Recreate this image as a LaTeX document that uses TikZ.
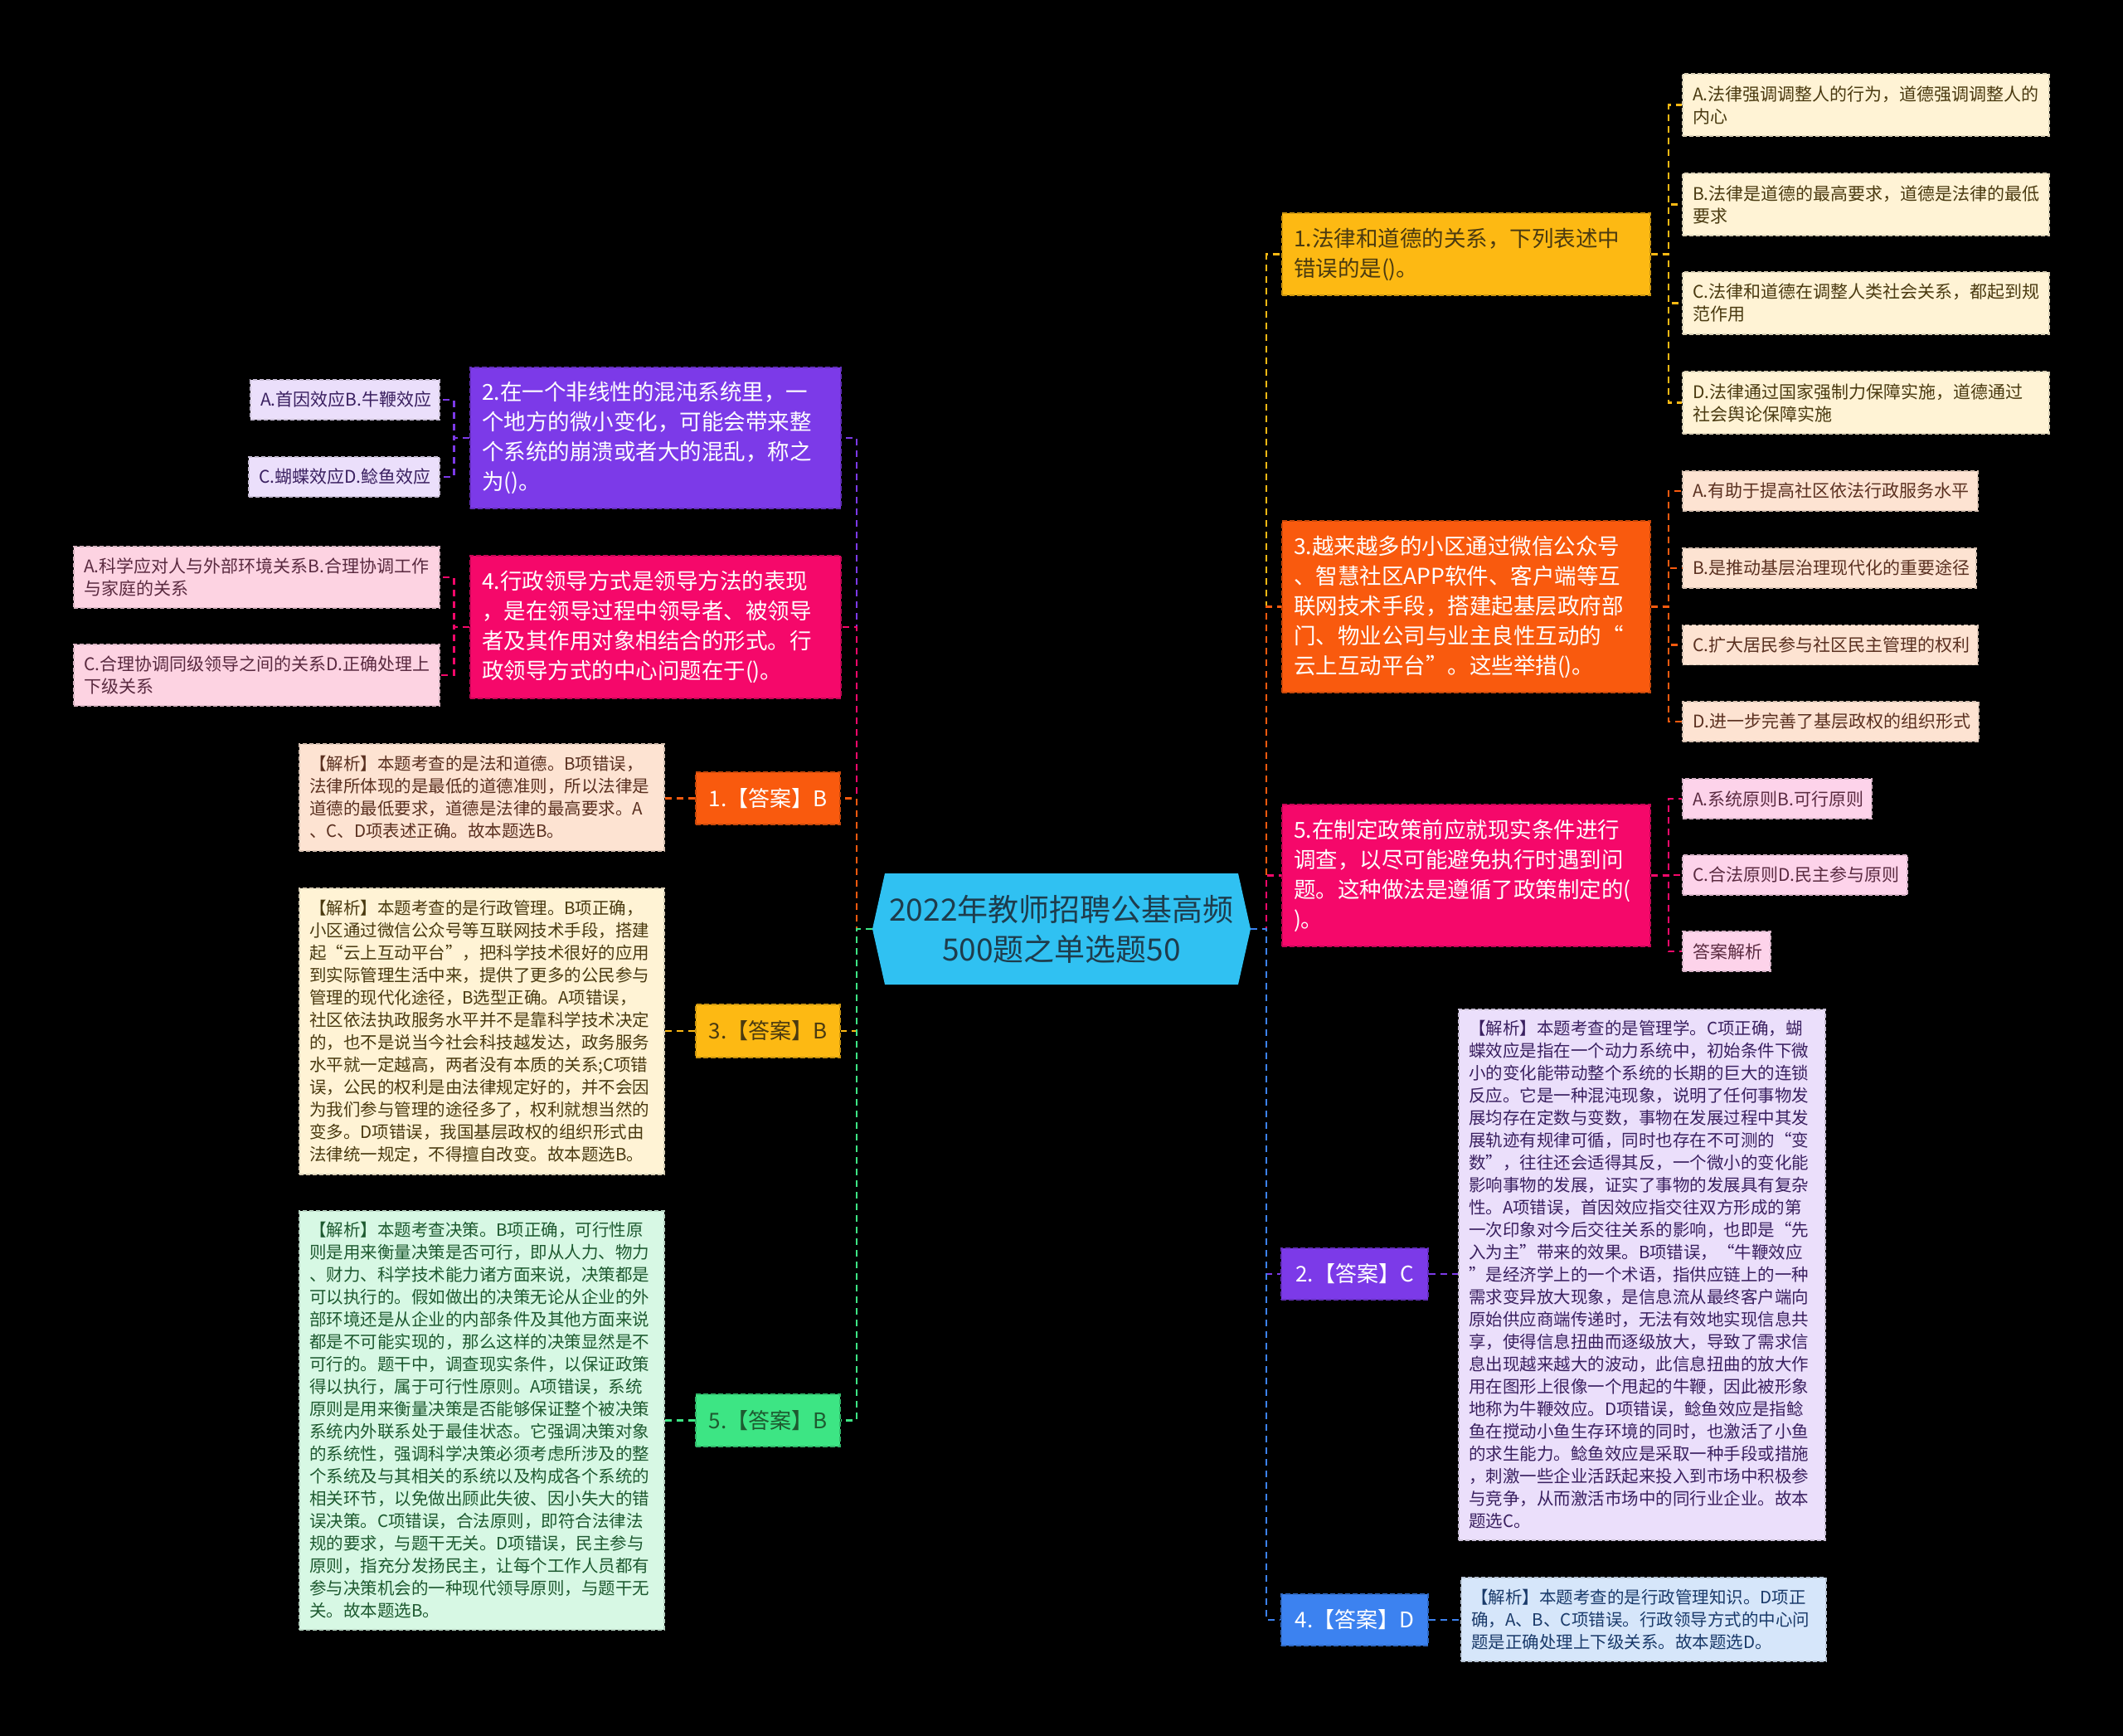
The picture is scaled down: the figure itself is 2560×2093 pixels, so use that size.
\documentclass[tikz,border=0pt]{standalone}
\usepackage{fontspec}
\setmainfont{Noto Sans CJK SC}
\usetikzlibrary{calc}
\definecolor{cYel}{HTML}{FDB913}
\definecolor{cOra}{HTML}{F95A0E}
\definecolor{cPnk}{HTML}{F5086A}
\definecolor{cPur}{HTML}{7C3AE8}
\definecolor{cGrn}{HTML}{3DE584}
\definecolor{cBlu}{HTML}{3C82F0}
\definecolor{cCen}{HTML}{30C1F2}
\definecolor{lYel}{HTML}{FFF3D5}
\definecolor{lOra}{HTML}{FDE3D2}
\definecolor{lPnk}{HTML}{FDD3EA}
\definecolor{lPur}{HTML}{EBDFFB}
\definecolor{lMag}{HTML}{FDD3E2}
\definecolor{lGrn}{HTML}{D7F8E4}
\definecolor{lBlu}{HTML}{D6E6FA}
\definecolor{tYel}{HTML}{4A3A10}
\definecolor{tOra}{HTML}{5A3020}
\definecolor{tPnk}{HTML}{5A2A40}
\definecolor{tPur}{HTML}{3A2060}
\definecolor{tGrn}{HTML}{1E5A30}
\definecolor{tBlu}{HTML}{1A3A6A}
\definecolor{tCen}{HTML}{1E3C4C}
\begin{document}
\begin{tikzpicture}[x=1pt,y=-1pt]
\tikzset{
 conn/.style={line width=2.3pt, dash pattern=on 8pt off 6pt},
 mainbox/.style={rectangle, draw, line width=1.3pt, dash pattern=on 6pt off 3pt, inner xsep=14pt, inner ysep=0pt, align=left, font=\fontsize{26.5pt}{36pt}\selectfont},
 ansbox/.style={rectangle, draw, line width=1.3pt, dash pattern=on 6pt off 3pt, inner sep=0pt, align=center, font=\fontsize{26pt}{32pt}\selectfont},
 optbox/.style={rectangle, draw, line width=1.2pt, dash pattern=on 5pt off 3pt, inner xsep=12pt, inner ysep=0pt, align=left, font=\fontsize{21pt}{27pt}\selectfont},
 anabox/.style={optbox, font=\fontsize{20.5pt}{27pt}\selectfont},
 rootbox/.style={rectangle, inner sep=0pt, align=center, text=tCen, font=\fontsize{37pt}{48pt}\selectfont},
}
\fill[black] (0,0) rectangle (2560,2093);
\useasboundingbox (0,0) rectangle (2560,2093);

% root hexagon
\fill[cCen] (1067,1053) -- (1493,1053) -- (1508,1120) -- (1493,1187) -- (1067,1187) -- (1052,1120) -- cycle;
\node[rootbox, minimum width=456pt, minimum height=134pt] (root) at (1280,1120) {2022年教师招聘公基高频\\500题之单选题50};

% right main boxes
\node[mainbox, fill=cYel, draw=cYel!80!black, text=tYel, text width=416pt, minimum height=99pt] (qY) at (1768,306.5) {1.法律和道德的关系，下列表述中\\错误的是()。};
\node[mainbox, fill=cOra, draw=cOra!80!black, text=white, text width=416pt, minimum height=207pt] (qO) at (1768,731.5) {3.越来越多的小区通过微信公众号\\、智慧社区APP软件、客户端等互\\联网技术手段，搭建起基层政府部\\门、物业公司与业主良性互动的“\\云上互动平台”。这些举措()。};
\node[mainbox, fill=cPnk, draw=cPnk!80!black, text=white, text width=416pt, minimum height=171pt] (qP) at (1768,1055.5) {5.在制定政策前应就现实条件进行\\调查，以尽可能避免执行时遇到问\\题。这种做法是遵循了政策制定的(\\)。};
\node[ansbox, fill=cPur, draw=cPur!80!black, text=white, minimum width=177pt, minimum height=62pt] (a2) at (1633.5,1536) {2.【答案】C};
\node[ansbox, fill=cBlu, draw=cBlu!80!black, text=white, minimum width=177pt, minimum height=62pt] (a4) at (1633.5,1953) {4.【答案】D};

% left main boxes
\node[mainbox, fill=cPur, draw=cPur!80!black, text=white, text width=419pt, minimum height=170pt] (qV) at (790.5,528) {2.在一个非线性的混沌系统里，一\\个地方的微小变化，可能会带来整\\个系统的崩溃或者大的混乱，称之\\为()。};
\node[mainbox, fill=cPnk, draw=cPnk!80!black, text=white, text width=419pt, minimum height=172pt] (qM) at (790.5,756) {4.行政领导方式是领导方法的表现\\，是在领导过程中领导者、被领导\\者及其作用对象相结合的形式。行\\政领导方式的中心问题在于()。};
\node[ansbox, fill=cOra, draw=cOra!80!black, text=white, minimum width=174pt, minimum height=63pt] (a1) at (926,962.5) {1.【答案】B};
\node[ansbox, fill=cYel, draw=cYel!80!black, text=tYel, minimum width=174pt, minimum height=64pt] (a3) at (926,1243) {3.【答案】B};
\node[ansbox, fill=cGrn, draw=cGrn!80!black, text=tGrn, minimum width=174pt, minimum height=63pt] (a5) at (926,1712.5) {5.【答案】B};

% right leaves
\node[optbox, fill=lYel, draw=lYel!85!black, text=tYel, text width=418pt, minimum height=75pt] (yA) at (2250,126.5) {A.法律强调调整人的行为，道德强调调整人的\\内心};
\node[optbox, fill=lYel, draw=lYel!85!black, text=tYel, text width=418pt, minimum height=75pt] (yB) at (2250,246.5) {B.法律是道德的最高要求，道德是法律的最低\\要求};
\node[optbox, fill=lYel, draw=lYel!85!black, text=tYel, text width=418pt, minimum height=75pt] (yC) at (2250,365.5) {C.法律和道德在调整人类社会关系，都起到规\\范作用};
\node[optbox, fill=lYel, draw=lYel!85!black, text=tYel, text width=418pt, minimum height=75pt] (yD) at (2250,485.5) {D.法律通过国家强制力保障实施，道德通过\\社会舆论保障实施};

\node[optbox, fill=lOra, draw=lOra!85!black, text=tOra, text width=332pt, minimum height=48pt] (oA) at (2207,592) {A.有助于提高社区依法行政服务水平};
\node[optbox, fill=lOra, draw=lOra!85!black, text=tOra, text width=330pt, minimum height=48pt] (oB) at (2206,685) {B.是推动基层治理现代化的重要途径};
\node[optbox, fill=lOra, draw=lOra!85!black, text=tOra, text width=332pt, minimum height=48pt] (oC) at (2207,777.5) {C.扩大居民参与社区民主管理的权利};
\node[optbox, fill=lOra, draw=lOra!85!black, text=tOra, text width=333pt, minimum height=48pt] (oD) at (2207.5,870) {D.进一步完善了基层政权的组织形式};

\node[optbox, fill=lPnk, draw=lPnk!85!black, text=tPnk, text width=204pt, minimum height=48pt] (pA) at (2143,963) {A.系统原则B.可行原则};
\node[optbox, fill=lPnk, draw=lPnk!85!black, text=tPnk, text width=247pt, minimum height=48pt] (pC) at (2164.5,1055) {C.合法原则D.民主参与原则};
\node[optbox, fill=lPnk, draw=lPnk!85!black, text=tPnk, text width=82pt, minimum height=48pt] (pE) at (2082,1147) {答案解析};

\node[anabox, fill=lPur, draw=lPur!85!black, text=tPur, text width=418pt, minimum height=640pt] (n2) at (1980,1537) {【解析】本题考查的是管理学。C项正确，蝴\\蝶效应是指在一个动力系统中，初始条件下微\\小的变化能带动整个系统的长期的巨大的连锁\\反应。它是一种混沌现象，说明了任何事物发\\展均存在定数与变数，事物在发展过程中其发\\展轨迹有规律可循，同时也存在不可测的“变\\数”，往往还会适得其反，一个微小的变化能\\影响事物的发展，证实了事物的发展具有复杂\\性。A项错误，首因效应指交往双方形成的第\\一次印象对今后交往关系的影响，也即是“先\\入为主”带来的效果。B项错误，“牛鞭效应\\”是经济学上的一个术语，指供应链上的一种\\需求变异放大现象，是信息流从最终客户端向\\原始供应商端传递时，无法有效地实现信息共\\享，使得信息扭曲而逐级放大，导致了需求信\\息出现越来越大的波动，此信息扭曲的放大作\\用在图形上很像一个甩起的牛鞭，因此被形象\\地称为牛鞭效应。D项错误，鲶鱼效应是指鲶\\鱼在搅动小鱼生存环境的同时，也激活了小鱼\\的求生能力。鲶鱼效应是采取一种手段或措施\\，刺激一些企业活跃起来投入到市场中积极参\\与竞争，从而激活市场中的同行业企业。故本\\题选C。};
\node[anabox, fill=lBlu, draw=lBlu!85!black, text=tBlu, text width=416pt, minimum height=101pt] (n4) at (1982,1952.5) {【解析】本题考查的是行政管理知识。D项正\\确，A、B、C项错误。行政领导方式的中心问\\题是正确处理上下级关系。故本题选D。};

% left leaves
\node[optbox, fill=lPur, draw=lPur!85!black, text=tPur, text width=204pt, minimum height=48pt] (vA) at (416,482) {A.首因效应B.牛鞭效应};
\node[optbox, fill=lPur, draw=lPur!85!black, text=tPur, text width=206pt, minimum height=48pt] (vC) at (415,575) {C.蝴蝶效应D.鲶鱼效应};
\node[optbox, fill=lMag, draw=lMag!85!black, text=tPnk, text width=417pt, minimum height=74pt] (mA) at (309.5,696) {A.科学应对人与外部环境关系B.合理协调工作\\与家庭的关系};
\node[optbox, fill=lMag, draw=lMag!85!black, text=tPnk, text width=417pt, minimum height=74pt] (mC) at (309.5,814) {C.合理协调同级领导之间的关系D.正确处理上\\下级关系};

\node[anabox, fill=lOra, draw=lOra!85!black, text=tOra, text width=416pt, minimum height=129pt] (n1) at (581,961.5) {【解析】本题考查的是法和道德。B项错误，\\法律所体现的是最低的道德准则，所以法律是\\道德的最低要求，道德是法律的最高要求。A\\、C、D项表述正确。故本题选B。};
\node[anabox, fill=lYel, draw=lYel!85!black, text=tYel, text width=416pt, minimum height=345pt] (n3) at (581,1243.5) {【解析】本题考查的是行政管理。B项正确，\\小区通过微信公众号等互联网技术手段，搭建\\起“云上互动平台”，把科学技术很好的应用\\到实际管理生活中来，提供了更多的公民参与\\管理的现代化途径，B选型正确。A项错误，\\社区依法执政服务水平并不是靠科学技术决定\\的，也不是说当今社会科技越发达，政务服务\\水平就一定越高，两者没有本质的关系;C项错\\误，公民的权利是由法律规定好的，并不会因\\为我们参与管理的途径多了，权利就想当然的\\变多。D项错误，我国基层政权的组织形式由\\法律统一规定，不得擅自改变。故本题选B。};
\node[anabox, fill=lGrn, draw=lGrn!85!black, text=tGrn, text width=416pt, minimum height=505pt] (n5) at (581,1712.5) {【解析】本题考查决策。B项正确，可行性原\\则是用来衡量决策是否可行，即从人力、物力\\、财力、科学技术能力诸方面来说，决策都是\\可以执行的。假如做出的决策无论从企业的外\\部环境还是从企业的内部条件及其他方面来说\\都是不可能实现的，那么这样的决策显然是不\\可行的。题干中，调查现实条件，以保证政策\\得以执行，属于可行性原则。A项错误，系统\\原则是用来衡量决策是否能够保证整个被决策\\系统内外联系处于最佳状态。它强调决策对象\\的系统性，强调科学决策必须考虑所涉及的整\\个系统及与其相关的系统以及构成各个系统的\\相关环节，以免做出顾此失彼、因小失大的错\\误决策。C项错误，合法原则，即符合法律法\\规的要求，与题干无关。D项错误，民主参与\\原则，指充分发扬民主，让每个工作人员都有\\参与决策机会的一种现代领导原则，与题干无\\关。故本题选B。};

% connectors root -> right
\draw[conn, cYel] (root.east) -- ++(19,0) |- (qY.west);
\draw[conn, cOra] (root.east) -- ++(19,0) |- (qO.west);
\draw[conn, cPnk] (root.east) -- ++(19,0) |- (qP.west);
\draw[conn, cPur] (root.east) -- ++(19,0) |- (a2.west);
\draw[conn, cBlu] (root.east) -- ++(19,0) |- (a4.west);
% connectors root -> left
\draw[conn, cPur] (root.west) -- ++(-19,0) |- (qV.east);
\draw[conn, cPnk] (root.west) -- ++(-19,0) |- (qM.east);
\draw[conn, cOra] (root.west) -- ++(-19,0) |- (a1.east);
\draw[conn, cYel] (root.west) -- ++(-19,0) |- (a3.east);
\draw[conn, cGrn] (root.west) -- ++(-19,0) |- (a5.east);

% right main -> leaves
\foreach \n in {yA,yB,yC,yD} \draw[conn, cYel] (qY.east) -- ++(21,0) |- (\n.west);
\foreach \n in {oA,oB,oC,oD} \draw[conn, cOra] (qO.east) -- ++(21,0) |- (\n.west);
\foreach \n in {pA,pC,pE} \draw[conn, cPnk] (qP.east) -- ++(21,0) |- (\n.west);
\draw[conn, cPur] (a2.east) -- (a2.east -| n2.west);
\draw[conn, cBlu] (a4.east) -- (a4.east -| n4.west);
% left main -> leaves
\foreach \n in {vA,vC} \draw[conn, cPur] (qV.west) -- ++(-19,0) |- (\n.east);
\foreach \n in {mA,mC} \draw[conn, cPnk] (qM.west) -- ++(-19,0) |- (\n.east);
\draw[conn, cOra] (a1.west) -- (a1.west -| n1.east);
\draw[conn, cYel] (a3.west) -- (a3.west -| n3.east);
\draw[conn, cGrn] (a5.west) -- (a5.west -| n5.east);
\end{tikzpicture}
\end{document}
